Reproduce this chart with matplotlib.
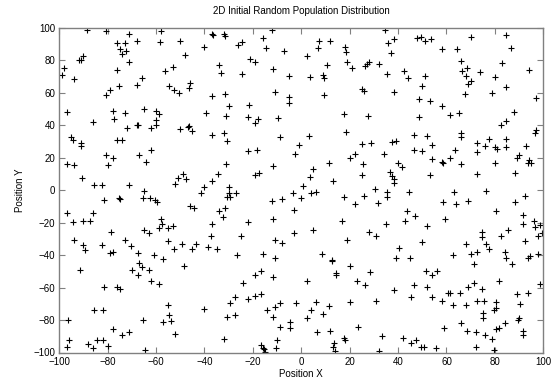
import matplotlib
matplotlib.use("Agg")
import matplotlib.pyplot as plt

# point positions, grouped by region of the plot
top_left = [(-88.5, 99), (-80.5, 98), (-71, 96), (-58, 98), (-76, 91), (-73, 91), (-68, 92), (-58.5, 91.5),
            (-75, 87), (-72.5, 86), (-74, 84), (-90, 83), (-92, 80), (-91, 80), (-71, 79), (-98, 75.5),
            (-99, 71), (-76, 74), (-53, 76), (-56.5, 73.5), (-94, 68.5), (-66, 69), (-75.5, 64.5), (-79, 62),
            (-80.5, 59), (-68, 65), (-54.5, 64), (-52.5, 62), (-50.5, 60), (-97, 48), (-78, 49), (-73, 47.5),
            (-65, 50), (-60, 49), (-59, 47), (-77.5, 44), (-86, 42), (-60, 43), (-68, 40), (-67.5, 40),
            (-60, 40), (-72, 38.5), (-62, 38.5)]
top_midleft = [(-50, 92), (-37, 96), (-36.5, 95.5), (-32, 96), (-31.5, 95), (-12, 99), (-16, 94), (-24.5, 91.5),
               (-26, 89.5), (-40, 88), (-14.5, 87.5), (-7, 86), (-48, 83.5), (-21, 81), (-19, 79), (-34, 77),
               (-33, 72.5), (-11.5, 75), (-24.5, 71.5), (-5, 70.5), (-46, 66), (-46.5, 63), (-11, 60.5),
               (-37, 58), (-31.5, 59.5), (-5, 57.5), (-5, 54), (-30, 52), (-21.5, 52.5), (-39.5, 47.5),
               (-31, 46), (-22, 45), (-18, 44), (-19, 41.5), (-9.5, 44.5), (-50, 38), (-46.5, 39.5), (-47, 39),
               (-45, 36.5)]
top_midright = [(34.5, 98.5), (7.5, 92), (12, 92), (7, 87.5), (18, 88.5), (18.5, 85), (2.5, 82.5), (10.5, 77.5),
                (19, 79), (21, 75.5), (28, 79), (27, 78), (26.5, 76.5), (32, 78), (36, 90.5), (38.5, 93),
                (37, 84.5), (48, 94), (49.5, 94.5), (3.5, 69.5), (9, 71), (9.5, 69), (35.5, 71.5), (42.5, 73.5),
                (44, 69), (50, 64.5), (9.5, 59), (25, 62.5), (26, 61), (38.5, 60.5), (48.5, 56.5), (17.5, 47),
                (27.5, 46), (48.5, 45), (18.5, 36)]
top_right = [(51, 92), (53.5, 93), (70, 94.5), (84.5, 95.5), (58, 87), (64.5, 87), (86.5, 87.5), (66, 79.5),
             (68.5, 75.5), (66.5, 73.5), (68, 70.5), (70, 67.5), (69, 65.5), (74, 73), (83, 78.5), (80, 70),
             (94, 74), (51, 70.5), (84.5, 63.5), (79, 60), (67.5, 59.5), (97, 57), (53, 55), (58, 52),
             (61.5, 46.5), (65, 47.5), (88, 48), (82.5, 40.5), (84.5, 42.5), (97, 37), (96.5, 35.5)]
mid_left = [(-95, 33), (-94.5, 31), (-91, 29), (-91, 27), (-76, 31), (-74, 31), (-62, 25), (-80.5, 22),
            (-78, 20), (-67, 21.5), (-64, 17.5), (-97, 16), (-94, 15.5), (-80, 15.5), (-90.5, 7.5), (-85.5, 3),
            (-82.5, 3.5), (-71, 3.5), (-52, 4), (-51, 7.5), (-65, -0.5), (-65.5, -4.5), (-62.5, -5), (-60.5, -6),
            (-59.5, -7), (-81.5, -6), (-75.5, -5), (-75, -5.5), (-97, -14), (-94.5, -19.5), (-90, -19),
            (-87.5, -19), (-86, -14), (-58, -17.5), (-57.5, -21), (-59, -23.5), (-55, -23.5), (-53, -22),
            (-65, -24.5), (-63, -26.5), (-78.5, -25.5), (-73, -30.5), (-94, -30.5), (-55, -31.5)]
mid_midleft = [(-37, 34), (-32, 35), (-30.5, 30.5), (-9, 33), (-1, 28), (-2.5, 22.5), (-22, 24), (-18.5, 24.5),
               (-31, 16), (-11.5, 15), (-49, 10), (-47.5, 7), (-34.5, 10), (-37, 6), (-19, 9.5), (-17.5, 10.5),
               (-40, 2), (-41.5, -2), (-30, 2), (-30, -2), (-30.5, -4), (-29.5, -4), (-27, -1.5), (-3.5, -2),
               (-12, -6.5), (-8, -5.5), (-3, -12), (-46, -9.5), (-44.5, -11), (-34, -13), (-31.5, -11),
               (-32.5, -16.5), (-22, -19.5), (-11.5, -17.5), (-37, -21), (-37.5, -28), (-25, -28.5),
               (-3, -26.5), (-11, -30.5), (-8, -32.5), (-49.5, -33)]
mid_midright = [(3, 33.5), (25, 28.5), (29, 29), (37.5, 29.5), (39, 30.5), (46.5, 34), (46.5, 24.5), (34, 22.5),
                (22, 22.5), (20, 20), (11.5, 16.5), (25.5, 16), (40, 17), (41.5, 14.5), (5, 13), (36.5, 11.5),
                (37.5, 9), (38.5, 7), (38.5, 4.5), (25, 9.5), (3.5, 8), (13, 6), (0.5, 2.5), (30.5, 1),
                (35.5, -1), (35.5, -4), (44.5, -1), (4, -2), (6, -1), (0, -4.5), (17.5, -4), (26, -3.5),
                (22, -8.5), (31.5, -8), (43.5, -13), (47, -16), (43, -19), (17, -19), (35, -21), (5, -24.5),
                (28, -25.5), (31, -28.5), (19, -30.5), (50, -32)]
mid_right = [(52, 33.5), (66, 33), (66, 35), (77.5, 31.5), (84.5, 31.5), (72.5, 29), (54, 28), (76, 27.5),
             (80, 26.5), (81, 25.5), (84.5, 26.5), (93, 27), (50, 24), (63.5, 24.5), (72.5, 23.5), (90, 22),
             (89, 20), (54, 19), (58, 17.5), (58.5, 16.5), (61.5, 20), (66, 16), (80, 16.5), (93.5, 17),
             (95, 16.5), (94, 18.5), (53, 9.5), (72.5, 10), (88.5, 10.5), (63, -1), (76.5, -0.5), (58.5, -7.5),
             (64, -8.5), (69, -6.5), (92.5, -3.5), (88.5, -7), (80.5, -13), (59.5, -17.5), (91.5, -15),
             (52, -22), (91.5, -21), (96, -19), (96.5, -22.5), (98.5, -21.5), (99.5, -26.5), (98, -28.5),
             (74.5, -25.5), (74.5, -29), (85.5, -24.5), (82.5, -28.5), (92.5, -31), (68, -33)]
low_left = [(-90, -34), (-89.5, -37), (-82.5, -33.5), (-70.5, -34.5), (-79, -38.5), (-78, -38), (-67.5, -38.5),
            (-52.5, -36.5), (-61, -40), (-57, -42.5), (-91.5, -49), (-70, -49), (-67, -45), (-66, -47),
            (-67.5, -52), (-63, -49), (-62, -56), (-59, -58), (-81.5, -59.5), (-76, -59.5), (-75, -61),
            (-85.5, -73.5), (-82, -74), (-55, -71), (-54.5, -77), (-54, -80.5), (-57, -81.5), (-65.5, -80),
            (-96.5, -80), (-78, -85.5), (-71, -87.5), (-74, -89.5), (-52, -88.5), (-96, -92.5), (-97, -96.5),
            (-88, -95), (-86, -97), (-84.5, -92), (-82, -92.5), (-80, -96), (-64.5, -98.5)]
low_midleft = [(-43.5, -33), (-45, -36.5), (-38.5, -35), (-35, -36), (-26.5, -40), (-16, -39.5), (-11, -41.5),
               (-48.5, -46.5), (-19, -52.5), (-16.5, -50), (-11.5, -53.5), (-24, -57), (-27.5, -66),
               (-29.5, -69.5), (-22, -67), (-19, -65), (-16.5, -64), (-9, -69.5), (-11, -72), (-14, -74),
               (-2, -69.5), (-40, -73), (-30.5, -78), (-27.5, -77), (-11.5, -78), (-4.5, -81), (-4.5, -85),
               (-9, -84), (-32, -91.5), (-10, -92.5), (-16.5, -95.5), (-16, -97), (-15.5, -98), (-15, -99.5),
               (-10.5, -97)]
low_midright = [(40.5, -35.5), (8.5, -39), (12.5, -43.5), (12.5, -43), (39, -42), (45, -41.5), (20, -46.5),
                (14.5, -51), (14.5, -52.5), (28.5, -50.5), (2.5, -56), (23, -56), (26.5, -58.5), (38.5, -61.5),
                (46.5, -58.5), (45.5, -65.5), (6, -69), (11.5, -71.5), (20, -69), (31, -68), (4, -74), (9, -76),
                (2.5, -78.5), (23.5, -84.5), (6.5, -87.5), (12, -87), (17.5, -91), (18, -92), (33.5, -90),
                (42, -91), (45.5, -94), (47.5, -92.5), (49.5, -96.5), (13.5, -94), (13, -96.5), (14, -99),
                (32, -99)]
low_right = [(76.5, -33), (77.5, -36.5), (62.5, -40), (70, -39), (72.5, -38), (84, -38), (84.5, -42),
             (87, -45.5), (93.5, -42), (94.5, -40.5), (98, -39), (71.5, -45.5), (51.5, -50), (54, -52.5),
             (56, -50), (81.5, -56), (71.5, -57), (69, -59.5), (52, -59.5), (74.5, -61), (98.5, -58),
             (93.5, -63.5), (89, -64), (60.5, -63.5), (61.5, -63.5), (65.5, -63.5), (54, -66), (58, -68),
             (62.5, -70.5), (68, -70.5), (72.5, -68), (75.5, -68), (80.5, -69), (80.5, -72.5), (79.5, -74),
             (90.5, -70), (75, -75.5), (75, -78.5), (89.5, -80), (90, -78.5), (84, -82), (81.5, -85),
             (80.5, -85.5), (66, -82), (59, -85), (68.5, -87), (72, -87.5), (76, -89.5), (79, -91.5),
             (91.5, -86.5), (91.5, -89.5), (50.5, -96.5), (55.5, -97.5), (72, -96.5), (79.5, -98.5)]

regions = [top_left, top_midleft, top_midright, top_right,
           mid_left, mid_midleft, mid_midright, mid_right,
           low_left, low_midleft, low_midright, low_right]
pts = [p for r in regions for p in r]
xs = [p[0] for p in pts]
ys = [p[1] for p in pts]

ticks = list(range(-100, 101, 20))

plt.rcParams['font.family'] = ['Liberation Sans', 'DejaVu Sans']

fig = plt.figure(figsize=(5.52, 3.91), dpi=100)
ax = fig.add_axes([59.3 / 552, 1 - 352.5 / 391, (543.3 - 59.3) / 552, (352.5 - 28) / 391])
ax.plot(xs, ys, '+', color='black', markersize=4.2, markeredgewidth=0.8)

ax.set_xlim(-100, 100)
ax.set_ylim(-100, 100)
ax.set_xticks(ticks)
ax.set_yticks(ticks)
ax.tick_params(direction='in', length=4, width=0.8, color='#808080', labelsize=7,
               top=True, right=True, pad=3)
for s in ax.spines.values():
    s.set_color('#808080')
    s.set_linewidth(1)

ax.set_title('2D Initial Random Population Distribution', fontsize=7, pad=10)
ax.set_xlabel('Position X', fontsize=7, labelpad=2)
ax.set_ylabel('Position Y', fontsize=7, labelpad=6)

fig.savefig('out.png', dpi=100)
